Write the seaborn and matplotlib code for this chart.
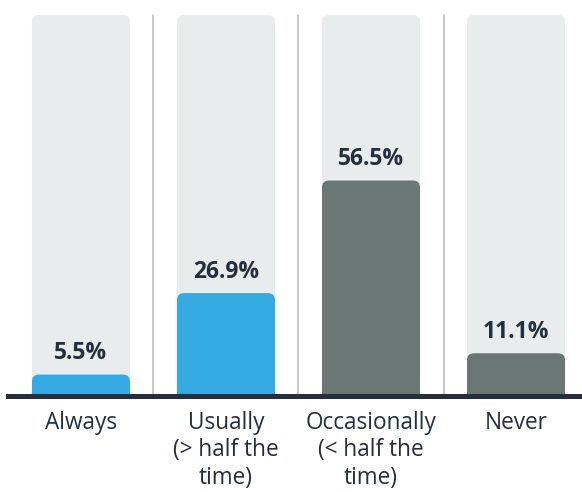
import matplotlib
matplotlib.use("Agg")
import matplotlib.pyplot as plt
import seaborn as sns
import pandas as pd
from matplotlib.patches import FancyBboxPatch

categories = ["Always", "Usually\n(> half the\ntime)", "Occasionally\n(< half the\ntime)", "Never"]
values = [5.5, 26.9, 56.5, 11.1]
track = [100, 100, 100, 100]
colors = ["#35A9E1", "#35A9E1", "#6B7775", "#6B7775"]

sns.set_theme(style="white")
plt.rcParams["font.family"] = ["Open Sans", "DejaVu Sans"]

W, H = 582, 492
fig = plt.figure(figsize=(W / 100, H / 100), dpi=100)
y0_px, y100_px, top_px = 395.5, 15.0, 5.0
ppu = (y0_px - y100_px) / 100.0
ax = fig.add_axes([8 / W, (H - y0_px) / H, (W - 8) / W, (y0_px - top_px) / H])

df = pd.DataFrame({"cat": categories, "val": values, "track": track})
sns.barplot(data=df, x="cat", y="track", color="#E9ECED", saturation=1, width=0.676, ax=ax, zorder=1)
sns.barplot(data=df, x="cat", y="val", hue="cat", palette=colors, saturation=1, width=0.676,
            legend=False, ax=ax, zorder=2)

x_lo, x_hi = -0.503, 3.455
ax.set_xlim(x_lo, x_hi)
ax.set_ylim(0, (y0_px - top_px) / ppu)

px_x = (W - 8) / (x_hi - x_lo)
rad_px = 7
aspect = px_x / ppu
for i, p in enumerate(list(ax.patches)):
    x, w, h = p.get_x(), p.get_width(), p.get_height()
    fc = p.get_facecolor()
    z = p.get_zorder()
    p.remove()
    fb = FancyBboxPatch((x, -3), w, h + 3,
                        boxstyle=f"round,pad=0,rounding_size={rad_px / px_x}",
                        mutation_aspect=aspect, facecolor=fc, edgecolor="none",
                        zorder=z, clip_on=True)
    ax.add_patch(fb)

for xd in [0.5, 1.5, 2.5]:
    ax.axvline(xd, ymin=0, ymax=100 / ax.get_ylim()[1], color="#C4C4C4", lw=1.3, zorder=0)

txt = "#232F3E"
for i, v in enumerate(values):
    ax.annotate(f"{v}%", xy=(i, v), xytext=(0, 11), textcoords="offset points",
                ha="center", va="baseline", fontsize=16.5, fontweight="bold", color=txt)

for s in ["top", "right", "left"]:
    ax.spines[s].set_visible(False)
ax.spines["bottom"].set_color(txt)
ax.spines["bottom"].set_linewidth(3.6)
ax.spines["bottom"].set_zorder(5)
ax.set_yticks([])
ax.set_xlabel("")
ax.set_ylabel("")
ax.tick_params(axis="x", length=0, pad=11, labelsize=16.3, labelcolor=txt)
for lab in ax.get_xticklabels():
    lab.set_linespacing(1.2)
ax.set_facecolor("white")

fig.savefig("out.png", dpi=100)
